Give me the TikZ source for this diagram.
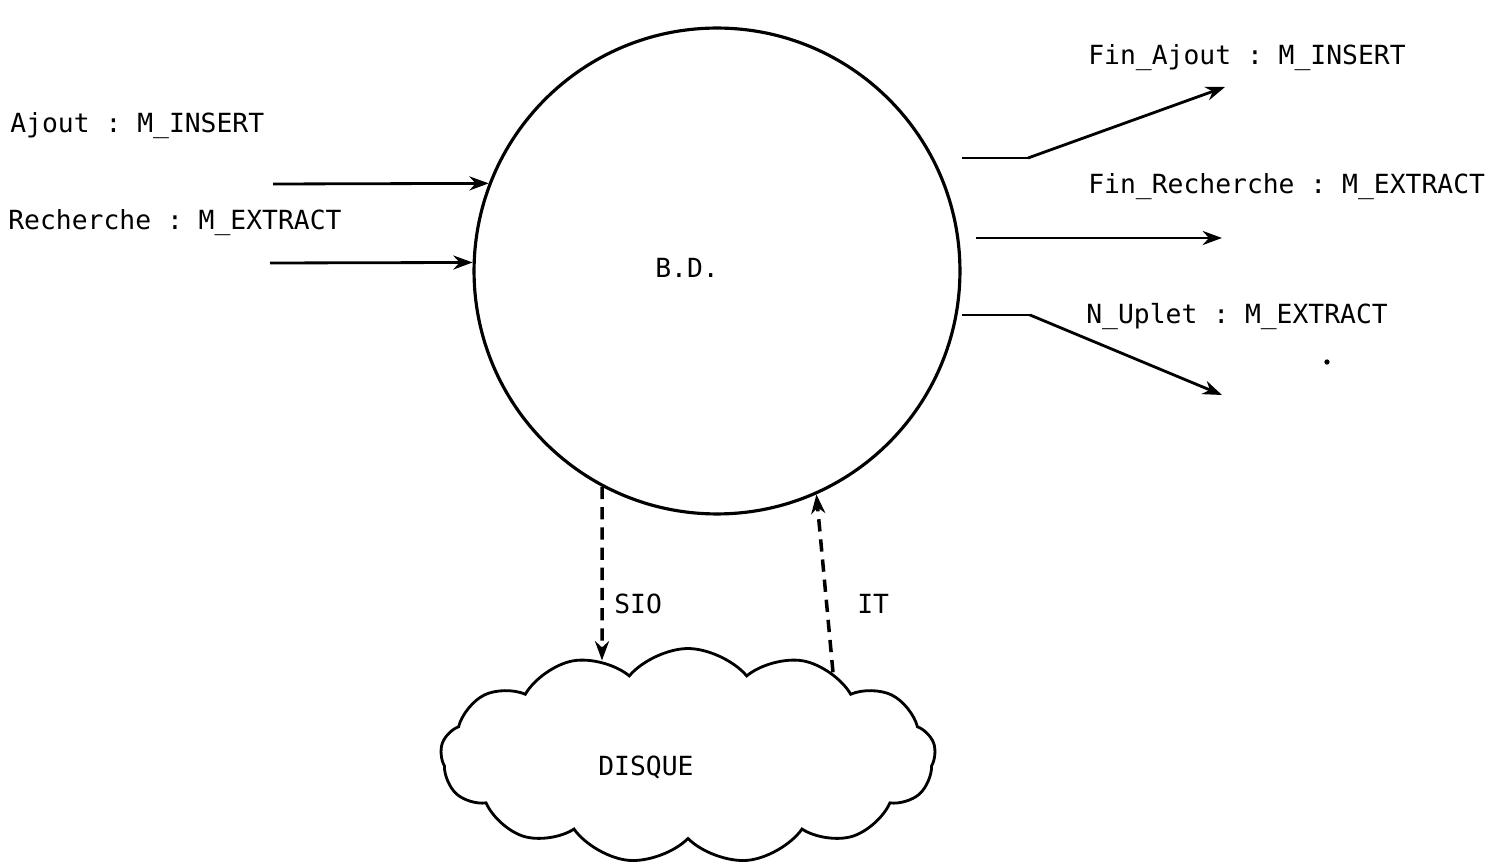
\documentclass[tikz,border=0pt]{standalone}
\usepackage{fontspec}
\setmonofont{DejaVu Sans Mono}
\usepackage{tikz}
\usetikzlibrary{arrows.meta}
\usetikzlibrary{positioning}
\usetikzlibrary{shapes.symbols}
\tikzset{flow/.style = {line width=1.6pt, -{Stealth[length=11pt, width=8pt]}}}
\tikzset{iolink/.style = {line width=2pt, dash pattern=on 7pt off 4.5pt,
                          -{Stealth[length=11pt, width=8pt]}}}
\tikzset{msg/.style = {anchor=west, inner sep=0, font=\ttfamily\fontsize{15}{18}\selectfont}}
\tikzset{circ/.style = {fill, circle, inner sep = 0, minimum size = 3}}

\begin{document}
\begin{tikzpicture}[x=0.02cm, y=-0.02cm]
      \useasboundingbox (0, 0) rectangle (1495, 864);

      \node [draw, circle, line width=1.8pt, minimum size=9.72cm] (bd) at (717, 271) {};
      \node [draw, cloud, cloud puffs=13, cloud puff arc=100, aspect=2.3,
             line width=1.6pt, minimum width=9.9cm, minimum height=4.3cm] (disque) at (688, 756) {};

      \node [msg] (bdlabel) at (655, 268) {B.D.};
      \node [msg] (disquelabel) at (598, 767) {DISQUE};
      \node [msg] (ajout) at (10, 126) {Ajout : M\_INSERT};
      \node [msg] (recherche) at (8, 223) {Recherche : M\_EXTRACT};
      \node [msg] (finajout) at (1088, 58) {Fin\_Ajout : M\_INSERT};
      \node [msg] (finrecherche) at (1088, 187) {Fin\_Recherche : M\_EXTRACT};
      \node [msg] (nuplet) at (1086, 317) {N\_Uplet : M\_EXTRACT};
      \node [msg] (sio) at (614, 604) {SIO};
      \node [msg] (it) at (857, 604) {IT};

      \coordinate (inajout) at (273, 184);
      \coordinate (inrech) at (270, 263);
      \coordinate (kajout) at (1028, 158);
      \coordinate (outajout) at (1225, 87);
      \coordinate (outrech) at (1222, 238);
      \coordinate (kuplet) at (1030, 315);
      \coordinate (outuplet) at (1222, 395);

      \draw [flow] (inajout) -- (bd.159);
      \draw [flow] (inrech) -- (bd.178);
      \draw [flow, -] (bd.east |- kajout) -- (kajout);
      \draw [flow] (kajout) -- (outajout);
      \draw [flow, shorten <=8pt] (bd.east |- outrech) -- (outrech);
      \draw [flow, -] (bd.east |- kuplet) -- (kuplet);
      \draw [flow] (kuplet) -- (outuplet);

      \draw [iolink] (bd.242) -- (disque.132);
      \draw [iolink] (disque.30) -- (bd.294);

      \node [circ] (dot) at (1327, 362) {};
    \end{tikzpicture}
\end{document}
